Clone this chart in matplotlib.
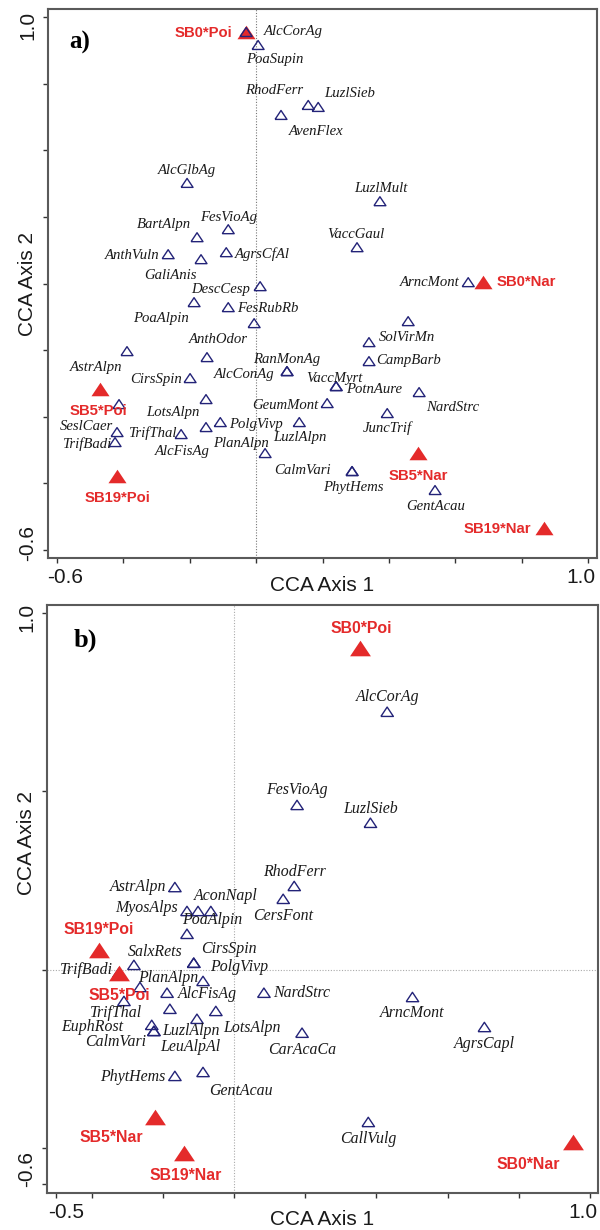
import matplotlib
matplotlib.use('Agg')
import matplotlib.pyplot as plt
from matplotlib.transforms import ScaledTranslation

# ---------------- Panel a data ----------------
a_species = ['AlcCorAg', 'PoaSupin', 'AvenFlex', 'RhodFerr', 'LuzlSieb', 'AlcGlbAg',
             'BartAlpn', 'FesVioAg', 'AnthVuln', 'GaliAnis', 'AgrsCfAl', 'DescCesp',
             'PoaAlpin', 'FesRubRb', '', 'AnthOdor', 'AstrAlpn', 'CirsSpin',
             'AlcConAg', 'RanMonAg', 'LotsAlpn', '', 'SeslCaer', 'TrifBadi',
             'TrifThal', 'AlcFisAg', 'PolgVivp', 'PlanAlpn', 'GeumMont', 'LuzlAlpn',
             'CalmVari', 'PhytHems', 'SolVirMn', '', 'CampBarb', 'VaccMyrt',
             'PotnAure', 'NardStrc', 'JuncTrif', 'GentAcau', 'ArncMont', 'LuzlMult',
             'VaccGaul']
a_x = [-0.030, 0.006, 0.075, 0.157, 0.187, -0.208,
       -0.178, -0.084, -0.265, -0.166, -0.090, 0.012,
       -0.187, -0.084, -0.006, -0.148, -0.389, -0.199,
       0.093, 0.093, -0.151, -0.413, -0.419, -0.425,
       -0.226, -0.151, -0.108, 0.027, 0.214, 0.130,
       0.289, 0.289, 0.340, 0.458, 0.340, 0.241,
       0.241, 0.491, 0.395, 0.539, 0.639, 0.373,
       0.304]
a_y = [0.955, 0.916, 0.706, 0.736, 0.730, 0.502,
       0.339, 0.363, 0.288, 0.273, 0.294, 0.192,
       0.144, 0.129, 0.081, -0.021, -0.003, -0.084,
       -0.063, -0.063, -0.147, -0.162, -0.246, -0.276,
       -0.252, -0.231, -0.216, -0.309, -0.159, -0.216,
       -0.363, -0.363, 0.024, 0.087, -0.033, -0.108,
       -0.108, -0.126, -0.189, -0.420, 0.204, 0.447,
       0.309]
a_sites = ['SB0*Poi', 'SB0*Nar', 'SB5*Poi', 'SB5*Nar', 'SB19*Poi', 'SB19*Nar']
a_site_x = [-0.030, 0.684, -0.470, 0.488, -0.419, 0.867]
a_site_y = [0.955, 0.204, -0.117, -0.309, -0.378, -0.535]

# ---------------- Panel b data ----------------
b_species = ['AlcCorAg', 'LuzlSieb', 'FesVioAg', 'RhodFerr', 'CersFont', 'AstrAlpn',
             'MyosAlps', 'PoaAlpin', 'AconNapl', '', 'CirsSpin', 'PolgVivp',
             'SalxRets', 'TrifBadi', 'PlanAlpn', '', 'TrifThal', 'AlcFisAg',
             '', 'LotsAlpn', 'LuzlAlpn', 'EuphRost', 'CalmVari', 'LeuAlpAl',
             'NardStrc', 'CarAcaCa', 'PhytHems', 'GentAcau', 'ArncMont', 'AgrsCapl',
             'CallVulg']
b_x = [0.430, 0.383, 0.177, 0.169, 0.138, -0.166,
       -0.132, -0.101, -0.065, -0.132, -0.113, -0.113,
       -0.281, -0.323, -0.087, -0.264, -0.309, -0.188,
       -0.180, -0.051, -0.104, -0.231, -0.225, -0.225,
       0.084, 0.191, -0.166, -0.087, 0.501, 0.703,
       0.377]
b_y = [0.723, 0.412, 0.462, 0.235, 0.199, 0.232,
       0.165, 0.165, 0.165, 0.101, 0.020, 0.020,
       0.014, -0.008, -0.031, -0.048, -0.087, -0.064,
       -0.109, -0.115, -0.137, -0.154, -0.171, -0.171,
       -0.064, -0.176, -0.297, -0.286, -0.076, -0.160,
       -0.426]
b_sites = ['SB0*Poi', 'SB0*Nar', 'SB5*Poi', 'SB5*Nar', 'SB19*Poi', 'SB19*Nar']
b_site_x = [0.354, 0.951, -0.323, -0.222, -0.380, -0.141]
b_site_y = [0.902, -0.482, -0.008, -0.412, 0.056, -0.513]

# ---------------- label layout (pixel offsets from marker, alignment) ----------------
a_species_lab = [(18, 0, 'left'), (17, -15, 'center'), (35, -17, 'center'), (-34, 14, 'center'),
                 (6, 13, 'left'), (0, 12, 'center'), (-33, 13, 'center'), (0, 12, 'center'),
                 (-9, -1, 'right'), (-31, -16, 'center'), (9, -2, 'left'), (-10, -3, 'right'),
                 (-33, -16, 'center'), (9, -1, 'left'), None, (11, 18, 'center'),
                 (-31, -16, 'center'), (-8, -1, 'right'), (-13, -3, 'right'), (0, 12, 'center'),
                 (-33, -13, 'center'), None, (-4, 6, 'right'), (-4, -2, 'right'),
                 (-5, 1, 'right'), (-24, -24, 'center'), (9, -2, 'left'), (-24, 10, 'center'),
                 (-9, -2, 'right'), (1, -15, 'center'), (-21, 1, 'right'), (1, -16, 'center'),
                 (10, 5, 'left'), None, (7, 1, 'left'), (-2, 8, 'center'),
                 (10, -3, 'left'), (34, -15, 'center'), (0, -15, 'center'), (1, -16, 'center'),
                 (-9, 0, 'right'), (1, 13, 'center'), (-1, 13, 'center')]
a_site_lab = [(-14, -1, 'right'), (13, 0, 'left'), (-2, -22, 'center'),
              (0, -23, 'center'), (0, -22, 'center'), (-13, -1, 'right')]
b_species_lab = [(1, 15, 'center'), (0, 14, 'center'), (0, 15, 'center'), (0, 14, 'center'),
                 (0, -17, 'center'), (-8, 0, 'right'), (-9, 3, 'right'), (14, -9, 'center'),
                 (15, 15, 'center'), None, (35, 14, 'center'), (16, -4, 'left'),
                 (21, 13, 'center'), (-6, 3, 'right'), (-5, 3, 'right'), None,
                 (-8, -12, 'center'), (11, -1, 'left'), None, (7, -17, 'left'),
                 (-6, -12, 'center'), (-29, -2, 'right'), (-8, -11, 'right'), (36, -16, 'center'),
                 (9, 0, 'left'), (0, -17, 'center'), (-10, -1, 'right'), (38, -19, 'center'),
                 (0, -16, 'center'), (0, -17, 'center'), (0, -17, 'center')]
b_site_lab = [(1, 19, 'center'), (-44, -23, 'center'), (0, -23, 'center'),
              (-44, -21, 'center'), (0, 20, 'center'), (2, -22, 'center')]

BLUE = '#232378'
RED = '#e42a2a'
FRAME = '#5a5a5a'
TRI = [(-1, -0.75), (1, -0.75), (0, 0.75), (-1, -0.75)]
PX = 0.72  # points per pixel at 100 dpi

fig = plt.figure(figsize=(6.0, 12.3), dpi=100)


def shift(t, dx_px, dy_px):
    t.set_transform(t.get_transform() + ScaledTranslation(dx_px / 100, dy_px / 100,
                                                          fig.dpi_scale_trans))


def panel(rect, xlim, ylim, xticks, xlabs, yticks, ylabs, sp, sx, sy, slab,
          st, stx, sty, stlab, tag, tagpos, fs_sp, fs_st, ms_sp, ms_st,
          red_on_top, hline, guide_col, ylab_pos, xlab_pos, end_shift):
    ax = fig.add_axes(rect)
    ax.set_xlim(*xlim)
    ax.set_ylim(*ylim)
    ax.axvline(0, color=guide_col, lw=0.8, ls=(0, (1, 1.5)), zorder=1)
    if hline:
        ax.axhline(0, color=guide_col, lw=0.8, ls=(0, (1, 1.5)), zorder=1)
    zsp, zst = (3, 4) if red_on_top else (4, 3)
    ax.scatter(sx, sy, marker=TRI, s=ms_sp ** 2, facecolors='none',
               edgecolors=BLUE, linewidths=1.0, zorder=zsp)
    ax.scatter(stx, sty, marker=TRI, s=ms_st ** 2, color=RED, linewidths=0, zorder=zst)
    for name, x, y, lab in zip(sp, sx, sy, slab):
        if not name or lab is None:
            continue
        dx, dy, ha = lab
        ax.annotate(name, (x, y), xytext=(dx * PX, dy * PX), textcoords='offset points',
                    ha=ha, va='center', fontsize=fs_sp, family='Liberation Serif',
                    style='italic', color='#1a1a1a', zorder=5)
    for name, x, y, lab in zip(st, stx, sty, stlab):
        dx, dy, ha = lab
        ax.annotate(name, (x, y), xytext=(dx * PX, dy * PX), textcoords='offset points',
                    ha=ha, va='center', fontsize=fs_st, family='Liberation Sans',
                    weight='bold', color=RED, zorder=6)
    ax.set_xticks(xticks)
    ax.set_xticklabels(xlabs)
    ax.set_yticks(yticks)
    ax.set_yticklabels(ylabs, rotation=90, va='center')
    ax.tick_params(direction='out', length=3.5, width=1.0, color='#333333', pad=4,
                   labelsize=15, top=False, right=False)
    xt = ax.get_xticklabels()
    yt = ax.get_yticklabels()
    for t in xt + yt:
        t.set_family('Liberation Sans')
        t.set_color('#1a1a1a')
    # end labels sit slightly inward of their ticks
    shift(xt[0], end_shift[0], 0)
    shift(xt[-1], -end_shift[1], 0)
    shift(yt[0], 0, end_shift[2])
    shift(yt[-1], 0, -end_shift[3])
    for s in ax.spines.values():
        s.set_color(FRAME)
        s.set_linewidth(1.5)
    ax.set_xlabel('CCA Axis 1', fontsize=15, family='Liberation Sans', color='#1a1a1a')
    ax.set_ylabel('CCA Axis 2', fontsize=15, family='Liberation Sans', color='#1a1a1a')
    ax.xaxis.set_label_coords(*xlab_pos)
    ax.yaxis.set_label_coords(*ylab_pos)
    ax.text(tagpos[0], tagpos[1], tag, transform=ax.transAxes, fontsize=tagpos[2],
            family='Liberation Serif', weight='bold', ha='center', va='center', color='black')
    return ax


panel([48 / 600, 1 - 558 / 1230, 549 / 600, 549 / 1230],
      (-0.627, 1.027), (-0.624, 1.024),
      [-0.6, -0.4, -0.2, 0.0, 0.2, 0.4, 0.6, 0.8, 1.0],
      ['-0.6', '', '', '', '', '', '', '', '1.0'],
      [-0.6, -0.4, -0.2, 0.0, 0.2, 0.4, 0.6, 0.8, 1.0],
      ['-0.6', '', '', '', '', '', '', '', '1.0'],
      a_species, a_x, a_y, a_species_lab, a_sites, a_site_x, a_site_y, a_site_lab,
      'a)', ((80 - 48) / 549, (558 - 42) / 549, 18), 10.6, 10.7, 8.6, 13,
      False, False, '#777777', (-0.02, 0.5), (0.5, -0.032), (8, 7, 7, 8))

panel([47 / 600, 1 - 1193 / 1230, 551 / 600, 588 / 1230],
      (-0.525, 1.022), (-0.625, 1.022),
      [-0.5, -0.4, -0.2, 0.0, 0.2, 0.4, 0.6, 0.8, 1.0],
      ['-0.5', '', '', '', '', '', '', '', '1.0'],
      [-0.6, -0.5, 0.0, 0.5, 1.0],
      ['-0.6', '', '', '', '1.0'],
      b_species, b_x, b_y, b_species_lab, b_sites, b_site_x, b_site_y, b_site_lab,
      'b)', ((85 - 47) / 551, (1193 - 640) / 588, 19), 11.4, 11.4, 9.0, 15,
      True, True, '#aaaaaa', (-0.02, 0.595), (0.5, -0.029), (10, 7, 15, 5))

fig.savefig('out.png', dpi=100)
